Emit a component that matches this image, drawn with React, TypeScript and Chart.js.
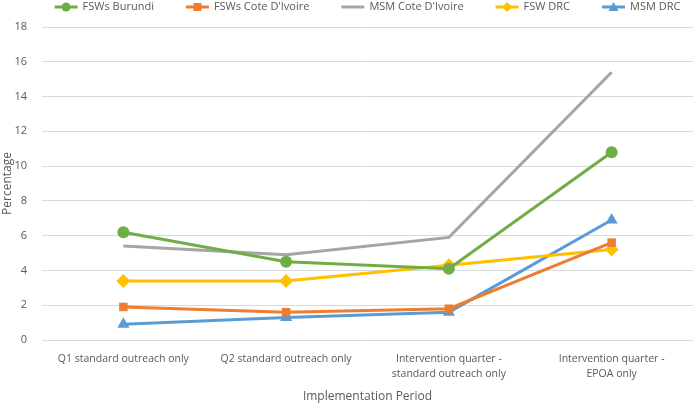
import React, { useEffect, useRef } from "react";
import { Chart, registerables } from "chart.js";

Chart.register(...registerables);

const categories: (string | string[])[] = [
  "Q1 standard outreach only",
  "Q2 standard outreach only",
  ["Intervention quarter -", "standard outreach only"],
  ["Intervention quarter -", "EPOA only"],
];
const fswBurundi = [6.2, 4.5, 4.1, 10.8];
const fswCdi = [1.9, 1.6, 1.8, 5.6];
const msmCdi = [5.4, 4.9, 5.9, 15.4];
const fswDrc = [3.4, 3.4, 4.3, 5.2];
const msmDrc = [0.9, 1.3, 1.6, 6.9];
const yTicks = [0, 2, 4, 6, 8, 10, 12, 14, 16, 18];

const FONT = "'Open Sans', Lato, sans-serif";
const TXT = "#595959";

const legendPlugin = {
  id: "customLegend",
  afterDraw(chart: any) {
    const ctx = chart.ctx;
    ctx.save();
    ctx.font = `11px ${FONT}`;
    ctx.textBaseline = "middle";
    const LINE = 23, GAP = 5, ITEM = 32;
    const items = chart.data.datasets.map((ds: any) => ({ ds, w: ctx.measureText(ds.label).width }));
    const total = items.reduce((a: number, it: any) => a + LINE + GAP + it.w, 0) + ITEM * (items.length - 1);
    const ca = chart.chartArea;
    let x = (ca.left + ca.right) / 2 - total / 2;
    const y = 7;
    items.forEach(({ ds, w }: any) => {
      ctx.strokeStyle = ds.borderColor;
      ctx.lineWidth = 3;
      ctx.beginPath();
      ctx.moveTo(x, y);
      ctx.lineTo(x + LINE, y);
      ctx.stroke();
      const cx = x + LINE / 2;
      ctx.fillStyle = ds.borderColor;
      const ps = ds.pointStyle;
      if (ds.pointRadius > 0) {
        ctx.beginPath();
        if (ps === "circle") ctx.arc(cx, y, 4.5, 0, Math.PI * 2);
        else if (ps === "rect") ctx.rect(cx - 4, y - 4, 8, 8);
        else if (ps === "rectRot") {
          ctx.moveTo(cx, y - 5);
          ctx.lineTo(cx + 5, y);
          ctx.lineTo(cx, y + 5);
          ctx.lineTo(cx - 5, y);
          ctx.closePath();
        } else if (ps === "triangle") {
          ctx.moveTo(cx, y - 5);
          ctx.lineTo(cx + 5, y + 4);
          ctx.lineTo(cx - 5, y + 4);
          ctx.closePath();
        }
        ctx.fill();
      }
      ctx.fillStyle = TXT;
      ctx.fillText(ds.label, x + LINE + GAP, y);
      x += LINE + GAP + w + ITEM;
    });
    ctx.restore();
  },
};

export default function App() {
  const ref = useRef<HTMLCanvasElement>(null);
  useEffect(() => {
    document.body.style.margin = "0";
    const mk = (label: string, data: number[], color: string, ps: any, r: number) => ({
      label,
      data,
      borderColor: color,
      backgroundColor: color,
      borderWidth: 3,
      pointStyle: ps,
      pointRadius: r,
      pointHoverRadius: r,
      pointBorderWidth: 0,
      tension: 0,
    });
    const chart = new Chart(ref.current!, {
      type: "line",
      data: {
        labels: categories,
        datasets: [
          mk("FSWs Burundi", fswBurundi, "#70AD47", "circle", 6),
          mk("FSWs Cote D'Ivoire", fswCdi, "#ED7D31", "rect", 6),
          mk("MSM Cote D'Ivoire", msmCdi, "#A5A5A5", "circle", 0),
          mk("FSW DRC", fswDrc, "#FFC000", "rectRot", 7),
          mk("MSM DRC", msmDrc, "#5B9BD5", "triangle", 7),
        ],
      },
      options: {
        animation: false,
        responsive: false,
        layout: { padding: { top: 27, right: 2, left: 0, bottom: 0 } },
        plugins: { legend: { display: false }, tooltip: { enabled: false } },
        scales: {
          x: {
            offset: true,
            grid: { display: false },
            border: { display: false },
            ticks: { color: TXT, font: { family: FONT, size: 10.5, lineHeight: 1.4 }, maxRotation: 0, autoSkip: false, padding: 4 },
            title: { display: true, text: "Implementation Period", color: TXT, font: { family: FONT, size: 12 }, padding: { top: 14 } },
            afterFit(s: any) { s.height = 68; },
          },
          y: {
            min: 0,
            max: 18,
            afterBuildTicks(s: any) { s.ticks = yTicks.map((v) => ({ value: v })); },
            grid: { color: "#D9D9D9", lineWidth: 1, drawTicks: false },
            border: { display: false },
            ticks: { color: TXT, font: { family: FONT, size: 11 }, padding: 15 },
            title: { display: true, text: "Percentage", color: TXT, font: { family: FONT, size: 12 }, padding: 0 },
            afterFit(s: any) { s.width = 42; },
          },
        },
      },
      plugins: [legendPlugin],
    });
    return () => chart.destroy();
  }, []);
  return <canvas ref={ref} width={700} height={408} style={{ display: "block" }} />;
}
